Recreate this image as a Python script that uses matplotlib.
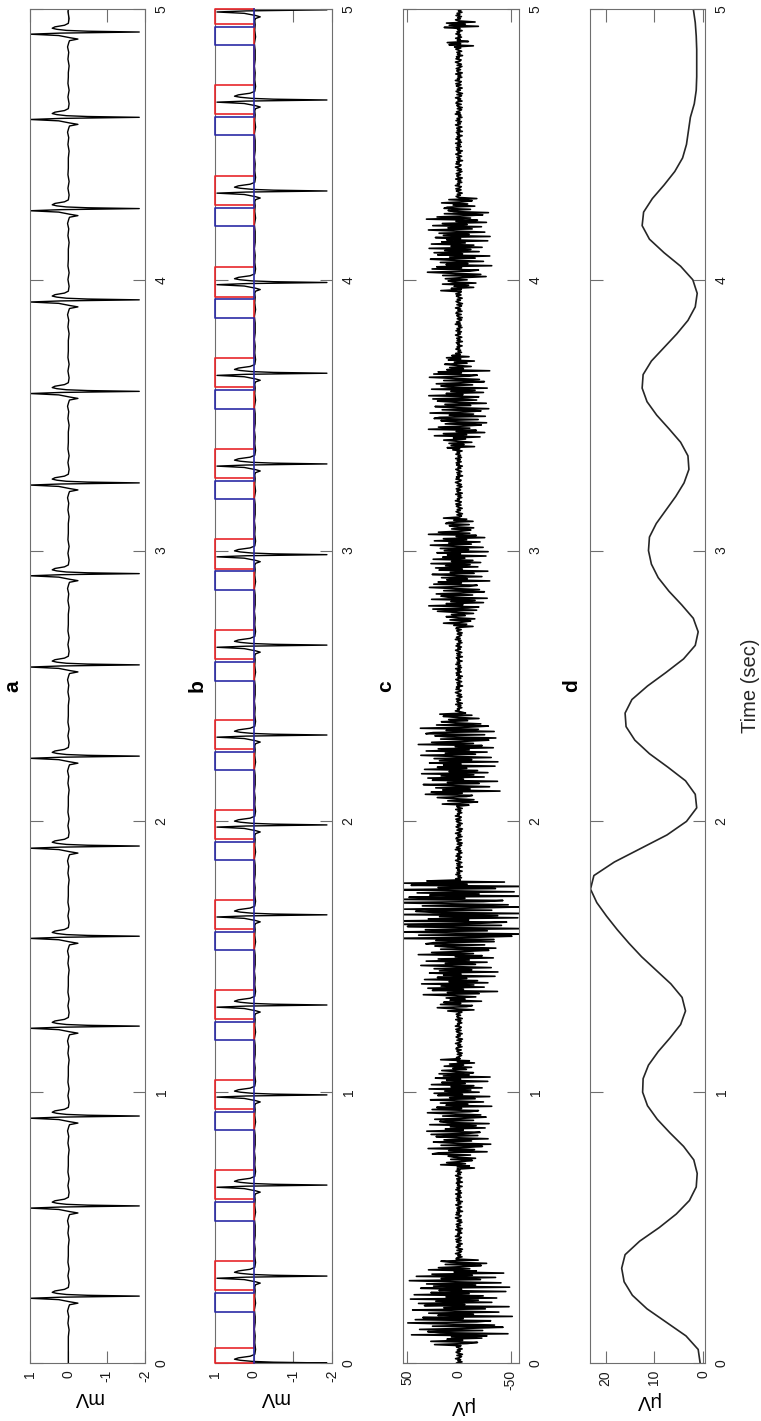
import numpy as np
import matplotlib.pyplot as plt

plt.rcParams['font.family'] = ['Liberation Sans', 'DejaVu Sans']

# ---- data ----
# R-peak times (sec) of the two ECG traces
beats_a = [0.247, 0.58, 0.912, 1.244, 1.576, 1.909, 2.241, 2.578, 2.915,
           3.25, 3.588, 3.926, 4.263, 4.60, 4.915]
beats_b = [0.0, 0.321, 0.657, 0.99, 1.322, 1.655, 1.987, 2.319, 2.651,
           2.985, 3.32, 3.655, 3.99, 4.328, 4.664, 4.997]

# one beat: offset from R peak (sec) and value (mV)
ecg_offsets = [-0.15, -0.125, -0.10, -0.075, -0.055, -0.04, -0.032, -0.026,
               -0.021, -0.013, -0.008, -0.004, 0.0, 0.003, 0.006, 0.010,
               0.014, 0.019, 0.025, 0.032, 0.05, 0.075, 0.10, 0.125, 0.149]
ecg_a_shape = [0.0, -0.02, 0.01, -0.01, 0.02, -0.01, -0.03, -0.25,
               -0.04, 0.25, 1.0, 0.2, -1.85, -0.5, 0.05, 0.3,
               0.42, 0.35, 0.1, 0.0, -0.02, 0.01, -0.02, 0.01, 0.0]
ecg_b_shape = [-0.03, -0.01, -0.04, -0.02, -0.03, -0.02, -0.04, -0.16,
               -0.04, 0.25, 0.95, 0.2, -1.87, -0.5, 0.05, 0.35,
               0.5, 0.4, 0.1, -0.02, -0.04, -0.02, -0.03, -0.01, -0.03]
ecg_start_value = 0.0

# detection windows around each R peak in panel b (sec)
blue_window = (-0.131, -0.062)
red_window = (-0.052, 0.056)

# EMG segments: start, end (sec) and amplitude (uV)
emg_start = [0.066, 0.10, 0.34, 0.72, 0.77, 1.07, 1.30, 1.36, 1.56,
             2.06, 2.10, 2.36, 2.72, 2.77, 3.07, 3.37, 3.42, 3.67,
             3.96, 4.01, 4.25, 4.86, 4.925]
emg_end = [0.10, 0.34, 0.38, 0.77, 1.07, 1.12, 1.36, 1.56, 1.78,
           2.10, 2.36, 2.40, 2.77, 3.07, 3.12, 3.42, 3.67, 3.72,
           4.01, 4.25, 4.30, 4.88, 4.955]
emg_amp = [28, 52, 30, 18, 32, 18, 22, 40, 72,
           22, 40, 22, 16, 30, 16, 16, 30, 16,
           18, 32, 18, 15, 20]
emg_base = 3.5
emg_pattern = [0.62, -0.85, 0.31, -0.47, 0.93, -0.22, -0.71, 0.54, -0.96, 0.18,
               0.77, -0.38, 0.45, -0.88, 0.12, 0.69, -0.57, 0.84, -0.29, -0.64,
               0.97, -0.13, 0.41, -0.79, 0.26, -0.52, 0.88, -0.91, 0.35, 0.58,
               -0.44, 0.73, -0.17, -0.82, 0.49, -0.66, 0.21, 0.95, -0.33, -0.59,
               0.81, -0.08, 0.67, -0.99, 0.39, -0.27, 0.56, -0.74, 0.15, 0.86,
               -0.49, 0.28, -0.93, 0.64, -0.11, 0.75, -0.61, 0.43, -0.36, 0.90,
               -0.70, 0.24, -0.45, 0.83, -0.19, 0.52, -0.87, 0.37, -0.05, 0.71,
               -0.94, 0.47, -0.31, 0.60, -0.78, 0.14, 0.92, -0.40, 0.33, -0.68,
               0.79, -0.25, 0.50, -0.83, 0.09, -0.56, 0.98, -0.35, 0.66, -0.16,
               -0.72, 0.44, -0.89, 0.27, 0.58, -0.62, 0.80]

# smoothed envelope (uV), every 0.05 s from 0 to 5
env_values = [0.6, 1.0, 3.5, 7.5, 11.5, 14.5, 16.2, 16.7, 16.0, 13.0,
              9.0, 5.5, 2.8, 1.4, 1.2, 1.9, 4.0, 6.8, 9.4, 11.4,
              12.4, 12.3, 11.2, 9.2, 6.8, 4.6, 3.6, 4.3, 6.6, 9.6,
              12.6, 15.2, 17.6, 19.8, 21.8, 23.1, 22.4, 18.2, 12.8, 7.4,
              3.4, 1.3, 1.6, 3.6, 7.2, 11.0, 14.0, 15.8, 16.0, 14.6,
              11.4, 7.6, 4.0, 1.6, 1.0, 2.0, 4.4, 7.0, 9.2, 10.6,
              11.2, 11.0, 9.6, 7.6, 5.6, 3.9, 2.9, 3.1, 4.6, 7.0,
              9.5, 11.5, 12.5, 12.3, 10.6, 8.0, 5.4, 3.1, 1.6, 1.2,
              2.1, 4.6, 8.0, 11.0, 12.5, 12.2, 10.4, 8.0, 5.8, 4.2,
              3.4, 3.0, 2.6, 1.8, 1.4, 1.3, 1.3, 1.3, 1.4, 1.6,
              2.0]

time_ticks = [0, 1, 2, 3, 4, 5]
mv_ticks = [1, 0, -1, -2]
emg_ticks = [50, 0, -50]
env_ticks = [20, 10, 0]


def ecg_trace(beats, shape):
    t, v = [0.0, 5.0], [ecg_start_value, ecg_start_value]
    for s in beats:
        for off, val in zip(ecg_offsets, shape):
            t.append(s + off)
            v.append(val)
    order = np.argsort(t)
    return np.array(t)[order], np.array(v)[order]


def pulse_trace(beats, window):
    t, v = [0.0], [0]
    for s in beats:
        if s + window[1] <= 0 or s + window[0] >= 5:
            continue
        t += [s + window[0], s + window[0], s + window[1], s + window[1]]
        v += [0, 1, 1, 0]
    t.append(5.0)
    v.append(0)
    return np.clip(t, 0, 5), v


t_emg = np.arange(0, 5.0001, 0.004)
amp = np.full(len(t_emg), float(emg_base))
for s0, s1, a in zip(emg_start, emg_end, emg_amp):
    amp[(t_emg >= s0) & (t_emg <= s1)] = a
emg = amp * np.array([emg_pattern[i % len(emg_pattern)] for i in range(len(t_emg))])

t_env = np.linspace(0, 5, len(env_values))

# ---- figure (drawn turned on its side: time runs upwards) ----
W, H = 761, 1421
fig = plt.figure(figsize=(W / 100, H / 100), dpi=100)
top, bot = 9, 1363


def add_panel(x0, x1):
    ax = fig.add_axes([x0 / W, 1 - bot / H, (x1 - x0) / W, (bot - top) / H])
    for sp in ax.spines.values():
        sp.set_color('#6e6e6e')
        sp.set_linewidth(0.8)
    ax.set_ylim(0, 5)
    ax.set_yticks(time_ticks)
    ax.tick_params(axis='both', direction='in', length=9, width=0.8, color='#6e6e6e',
                   labelsize=10, labelcolor='#1a1a1a', top=True, bottom=True,
                   left=True, right=True, labelleft=False, labelright=True)
    ax.tick_params(axis='x', labelrotation=90, pad=5)
    ax.tick_params(axis='y', labelrotation=90, pad=7)
    for lab in ax.get_yticklabels():
        lab.set_va('center')
    return ax


ax_a = add_panel(30, 145)
ta, va = ecg_trace(beats_a, ecg_a_shape)
ax_a.plot(va, ta, color='black', lw=1.0)
ax_a.set_xlim(1, -2)
ax_a.set_xticks(mv_ticks)
ax_a.set_xticklabels([str(v) for v in mv_ticks])
ax_a.set_xlabel('mV', rotation=180, fontsize=14.5, labelpad=4)

ax_b = add_panel(215, 332)
tb, vb = ecg_trace(beats_b, ecg_b_shape)
ax_b.plot(vb, tb, color='black', lw=1.0, zorder=2)
rt, rv = pulse_trace(beats_b, red_window)
ax_b.plot(rv, rt, color='#e8262a', lw=1.2, zorder=3, clip_on=False)
bt, bv = pulse_trace(beats_b, blue_window)
ax_b.plot(bv, bt, color='#2b2ba6', lw=1.2, zorder=4, clip_on=False)
ax_b.set_xlim(1, -2)
ax_b.set_xticks(mv_ticks)
ax_b.set_xticklabels([str(v) for v in mv_ticks])
ax_b.set_xlabel('mV', rotation=180, fontsize=14.5, labelpad=4)

ax_c = add_panel(403, 519)
ax_c.plot(emg, t_emg, color='black', lw=1.2)
ax_c.set_xlim(54, -58)
ax_c.set_xticks(emg_ticks)
ax_c.set_xticklabels([str(v) for v in emg_ticks])
ax_c.set_xlabel('μV', rotation=180, fontsize=14.5, labelpad=4)

ax_d = add_panel(590, 705)
ax_d.plot(env_values, t_env, color='#262626', lw=1.2)
ax_d.set_xlim(23.2, -0.4)
ax_d.set_xticks(env_ticks)
ax_d.set_xticklabels([str(v) for v in env_ticks])
ax_d.set_xlabel('μV', rotation=180, fontsize=14.5, labelpad=4)

mid = 1 - (top + bot) / 2 / H
for x, name in zip([13, 197, 386, 572], ['a', 'b', 'c', 'd']):
    fig.text(x / W, mid, name, rotation=90, fontsize=15, fontweight='bold',
             ha='center', va='center')
fig.text(750 / W, mid, 'Time (sec)', rotation=90, fontsize=14.5,
         ha='center', va='center', color='#262626')

fig.savefig('out.png', dpi=100)
